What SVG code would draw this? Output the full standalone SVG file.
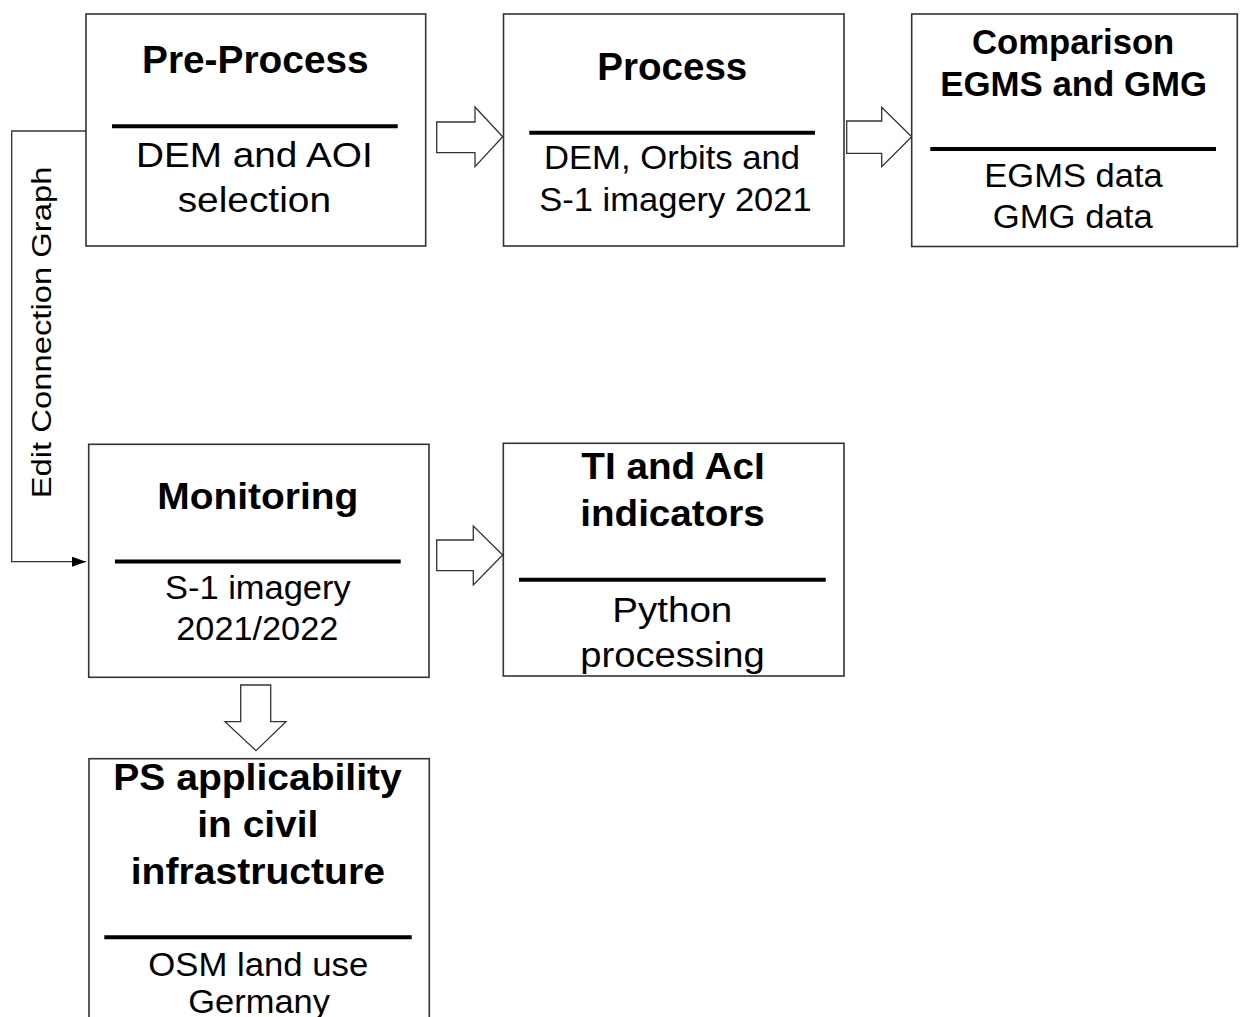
<svg xmlns="http://www.w3.org/2000/svg" width="1242" height="1017" viewBox="0 0 1242 1017">
<defs>
<style>
.box{fill:#fff;stroke:#333;stroke-width:1.6}
.sep{stroke:#000;stroke-width:4}
.t{font-family:"Liberation Sans",Arial,sans-serif;fill:#000}
.b{font-weight:bold}
.blk{fill:#fff;stroke:#333;stroke-width:1.3;stroke-linejoin:miter}
.con{fill:none;stroke:#333;stroke-width:1.3}
</style>
<marker id="ah" viewBox="0 0 14 10" refX="14" refY="5" markerWidth="14" markerHeight="10" markerUnits="userSpaceOnUse" orient="auto">
<path d="M0,0 L14,5 L0,10 Z" fill="#000"/>
</marker>
</defs>
<rect width="1242" height="1017" fill="#fff"/>

<g id="connectors">
<polyline class="con" points="86,131 11.7,131 11.7,561.7 86,561.7" marker-end="url(#ah)"/>
<path class="blk" d="M436.7,122 L475,122 L475,107 L502.7,136.7 L475,166.7 L475,152.7 L436.7,152.7 Z"/>
<path class="blk" d="M846.7,121 L881.7,121 L881.7,107.3 L911.7,136.7 L881.7,166.7 L881.7,153.3 L846.7,153.3 Z"/>
<path class="blk" d="M436.7,540 L473.3,540 L473.3,526 L502.7,555 L473.3,585 L473.3,570.7 L436.7,570.7 Z"/>
<path class="blk" d="M240.7,685 L270.7,685 L270.7,721.7 L286,721.7 L256,750.7 L225,721.7 L240.7,721.7 Z"/>
<text class="t" font-size="27" transform="translate(51,498.3) rotate(-90)" textLength="331.7" lengthAdjust="spacingAndGlyphs">Edit Connection Graph</text>
</g>

<g id="preprocess">
<rect class="box" x="86" y="14" width="339.7" height="232"/>
<text class="t b" x="142" y="73.3" font-size="38.6" textLength="226.7" lengthAdjust="spacingAndGlyphs">Pre-Process</text>
<line class="sep" x1="112" y1="126.3" x2="397.7" y2="126.3"/>
<text class="t" x="136" y="167.3" font-size="35" textLength="236.7" lengthAdjust="spacingAndGlyphs">DEM and AOI</text>
<text class="t" x="177.7" y="212.3" font-size="35" textLength="153.3" lengthAdjust="spacingAndGlyphs">selection</text>
</g>

<g id="process">
<rect class="box" x="503.5" y="14" width="340.5" height="232"/>
<text class="t b" x="597.3" y="80" font-size="38" textLength="150" lengthAdjust="spacingAndGlyphs">Process</text>
<line class="sep" x1="529.3" y1="132.7" x2="815" y2="132.7"/>
<text class="t" x="544" y="169.3" font-size="33" textLength="256" lengthAdjust="spacingAndGlyphs">DEM, Orbits and</text>
<text class="t" x="539.3" y="211" font-size="33" textLength="272.4" lengthAdjust="spacingAndGlyphs">S-1 imagery 2021</text>
</g>

<g id="comparison">
<rect class="box" x="911.7" y="14" width="325.6" height="232.5"/>
<text class="t b" x="972" y="54" font-size="35" textLength="202.3" lengthAdjust="spacingAndGlyphs">Comparison</text>
<text class="t b" x="940.3" y="95.5" font-size="35" textLength="266.7" lengthAdjust="spacingAndGlyphs">EGMS and GMG</text>
<line class="sep" x1="930.3" y1="149" x2="1216" y2="149"/>
<text class="t" x="984.3" y="186.5" font-size="33" textLength="178.4" lengthAdjust="spacingAndGlyphs">EGMS data</text>
<text class="t" x="992.7" y="227.5" font-size="33" textLength="160" lengthAdjust="spacingAndGlyphs">GMG data</text>
</g>

<g id="monitoring">
<rect class="box" x="88.7" y="444.3" width="340.3" height="233"/>
<text class="t b" x="157.3" y="509" font-size="37.5" textLength="201" lengthAdjust="spacingAndGlyphs">Monitoring</text>
<line class="sep" x1="115" y1="561.5" x2="400.7" y2="561.5"/>
<text class="t" x="165" y="599" font-size="33.5" textLength="185.7" lengthAdjust="spacingAndGlyphs">S-1 imagery</text>
<text class="t" x="176.3" y="639.5" font-size="33.5" textLength="162" lengthAdjust="spacingAndGlyphs">2021/2022</text>
</g>

<g id="indicators">
<rect class="box" x="503.3" y="443.3" width="340.7" height="232.7"/>
<text class="t b" x="581.3" y="479" font-size="37.5" textLength="183.4" lengthAdjust="spacingAndGlyphs">TI and AcI</text>
<text class="t b" x="580.3" y="526" font-size="37.5" textLength="184.4" lengthAdjust="spacingAndGlyphs">indicators</text>
<line class="sep" x1="519" y1="579.7" x2="825.7" y2="579.7"/>
<text class="t" x="612.3" y="621.5" font-size="35" textLength="120" lengthAdjust="spacingAndGlyphs">Python</text>
<text class="t" x="580.3" y="667" font-size="35" textLength="184.4" lengthAdjust="spacingAndGlyphs">processing</text>
</g>

<g id="ps-applicability">
<rect class="box" x="89" y="758.7" width="340.3" height="280"/>
<text class="t b" x="113.3" y="790" font-size="37.5" textLength="288.4" lengthAdjust="spacingAndGlyphs">PS applicability</text>
<text class="t b" x="197.3" y="837" font-size="37.5" textLength="121" lengthAdjust="spacingAndGlyphs">in civil</text>
<text class="t b" x="130.7" y="884" font-size="37.5" textLength="254.3" lengthAdjust="spacingAndGlyphs">infrastructure</text>
<line class="sep" x1="104.3" y1="937.3" x2="411.7" y2="937.3"/>
<text class="t" x="148.3" y="975.5" font-size="33.5" textLength="220" lengthAdjust="spacingAndGlyphs">OSM land use</text>
<text class="t" x="188.3" y="1013" font-size="33.5" textLength="141.7" lengthAdjust="spacingAndGlyphs">Germany</text>
</g>
</svg>
